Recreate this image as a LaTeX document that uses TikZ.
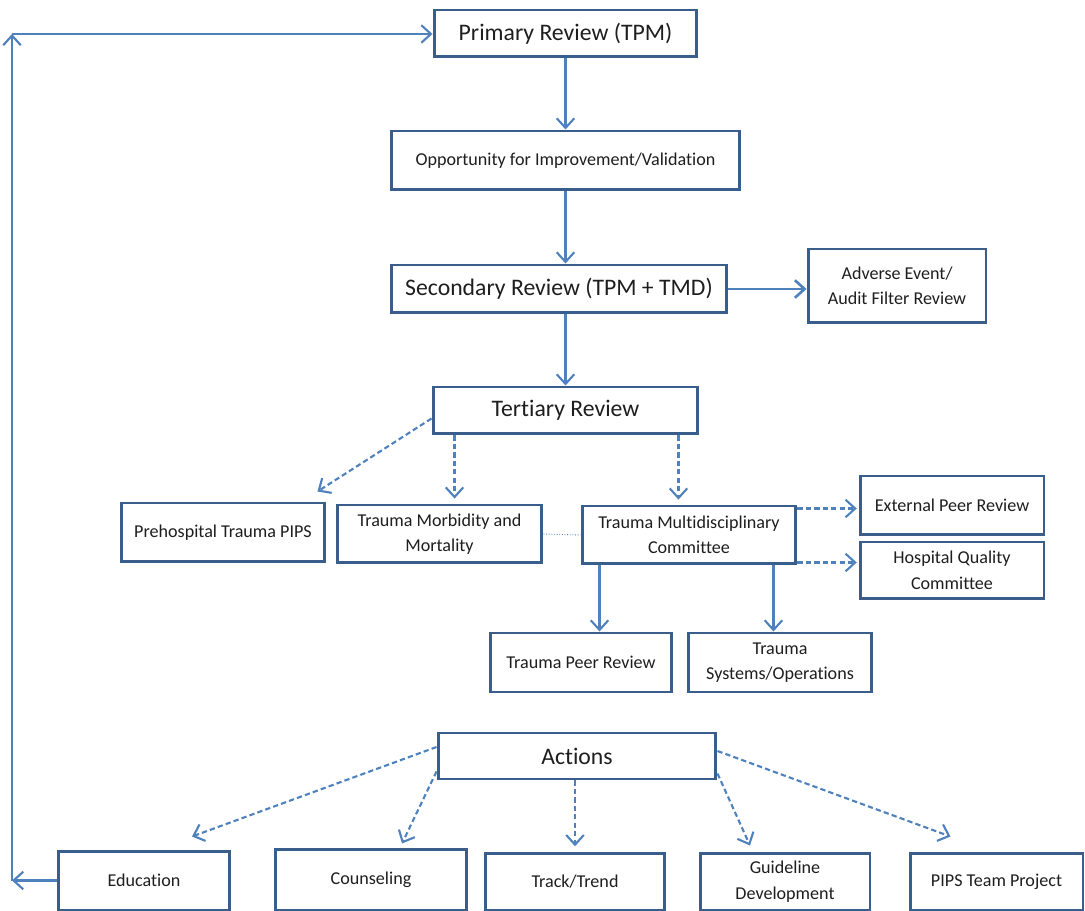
\documentclass[tikz,border=0pt]{standalone}
\usepackage{fontspec}
\setmainfont{Carlito}[RawFeature=-liga]
\usetikzlibrary{arrows.meta,calc}
\definecolor{boxblue}{HTML}{3A5E8C}
\definecolor{arrblue}{HTML}{4F81BD}
\definecolor{txt}{HTML}{1E1E1E}
\tikzset{
 box/.style={draw=boxblue, line width=1.7pt, text=txt, align=center, inner sep=2pt,
   font=\fontsize{10.3}{14.5}\selectfont},
 bigbox/.style={box, font=\fontsize{13.5}{16}\selectfont},
 arr/.style={draw=arrblue, line width=1.2pt, -{Straight Barb[length=5.5pt,width=10pt]}},
 dasharr/.style={arr, dash pattern=on 3pt off 1.8pt},
}
\begin{document}
\begin{tikzpicture}[x=0.02cm,y=-0.02cm]
 \useasboundingbox (0,0) rectangle (1085,911);
 % review chain
 \node[bigbox, minimum width=5.26cm, minimum height=0.94cm] (prim) at (565.5,33.5) {Primary Review (TPM)};
 \node[box, minimum width=6.98cm, minimum height=1.18cm] (opp) at (565.5,160.5) {Opportunity for Improvement/Validation};
 \node[bigbox, minimum width=6.72cm, minimum height=0.96cm] (sec) at (559,289) {Secondary Review (TPM + TMD)};
 \node[box, minimum width=3.56cm, minimum height=1.48cm] (adv) at (897,286) {Adverse Event/\\Audit Filter Review};
 \node[bigbox, minimum width=5.30cm, minimum height=0.94cm] (ter) at (565.5,410.5) {Tertiary Review};
 %
 \node[box, minimum width=4.08cm, minimum height=1.18cm] (pre) at (223,532.5) {Prehospital Trauma PIPS};
 \node[box, minimum width=4.10cm, minimum height=1.16cm] (mm) at (439.5,534) {Trauma Morbidity and\\Mortality};
 \node[box, minimum width=4.28cm, minimum height=1.16cm] (multi) at (689,535) {Trauma Multidisciplinary\\Committee};
 \node[box, minimum width=3.68cm, minimum height=1.18cm] (ext) at (952,505.5) {External Peer Review};
 \node[box, minimum width=3.68cm, minimum height=1.14cm] (hosp) at (952,570.5) {Hospital Quality\\Committee};
 \node[box, minimum width=3.64cm, minimum height=1.18cm] (tpr) at (581,662.5) {Trauma Peer Review};
 \node[box, minimum width=3.68cm, minimum height=1.18cm] (tso) at (780,662.5) {Trauma\\Systems/Operations};
 % actions
 \node[bigbox, minimum width=5.56cm, minimum height=0.92cm] (act) at (577,756) {Actions};
 \node[box, minimum width=3.44cm, minimum height=1.18cm] (edu) at (144,880.5) {Education};
 \node[box, minimum width=3.84cm, minimum height=1.22cm] (cou) at (371,879.5) {Counseling};
 \node[box, minimum width=3.60cm, minimum height=1.14cm] (trk) at (575,881.5) {Track/Trend};
 \node[box, minimum width=3.40cm, minimum height=1.14cm] (gui) at (785,881.5) {Guideline\\Development};
 \node[box, minimum width=3.46cm, minimum height=1.14cm] (pips) at (996.5,881.5) {PIPS Team Project};
 %
 \draw[arr] (prim) -- (opp);
 \draw[arr] (opp.south) -- (opp.south |- sec.north);
 \draw[arr, line width=1.5pt] (sec.east) -- (adv.west |- sec.east);
 \draw[arr] (ter.north |- sec.south) -- (ter.north);
 % tertiary branches
 \draw[dasharr] ($(ter.west)+(0,8)$) -- ($(pre.north east)+(-9,-10)$);
 \draw[dasharr, shorten >=2.8pt] ($(ter.south west)+(23,0)$) coordinate (t1) -- (t1 |- mm.north);
 \draw[dasharr, shorten >=2.8pt] ($(ter.south east)+(-21,0)$) coordinate (t2) -- (t2 |- multi.north);
 \draw[arrblue, line width=0.5pt, densely dotted] (mm.east) -- (multi.west);
 \draw[dasharr, shorten >=1pt] ($(multi.north east)+(0,4)$) coordinate (m1) -- (m1 -| ext.west);
 \draw[dasharr, shorten >=1pt] ($(multi.south east)+(0,-3)$) coordinate (m2) -- (m2 -| hosp.west);
 \draw[arr] ($(multi.south west)+(19,0)$) coordinate (m3) -- (m3 |- tpr.north);
 \draw[arr] ($(multi.south east)+(-24,0)$) coordinate (m4) -- (m4 |- tso.north);
 % action branches
 \draw[dasharr] ($(act.west)+(0,-9)$) -- ($(edu.north)+(48,-13)$);
 \draw[dasharr] ($(act.south west)+(0,-9)$) -- ($(cou.north)+(31,-4)$);
 \draw[dasharr, shorten >=3pt] (trk.north |- act.south) -- (trk.north);
 \draw[dasharr] ($(act.south east)+(0,-7)$) -- ($(gui.north)+(-35,-6)$);
 \draw[dasharr] ($(act.east)+(0,-5)$) -- ($(pips.north)+(-46,-15)$);
 % loop back
 \coordinate (lowc) at (12,880.5);
 \coordinate (topc) at (12,34);
 \draw[arr] (edu.west) -- (lowc);
 \draw[arr] (lowc) -- (topc);
 \draw[arr] (topc) -- (topc -| prim.west);
\end{tikzpicture}
\end{document}
